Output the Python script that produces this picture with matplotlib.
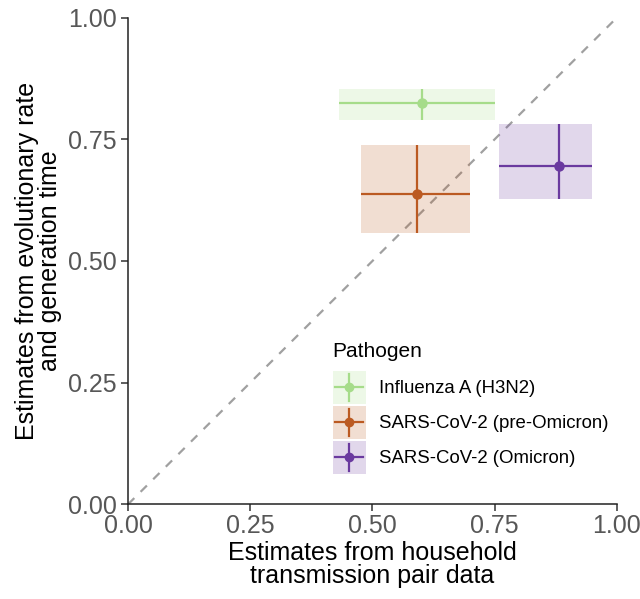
import matplotlib
matplotlib.use("Agg")
import matplotlib.pyplot as plt
from matplotlib.patches import Rectangle
from matplotlib.lines import Line2D
from matplotlib.legend_handler import HandlerBase

plt.rcParams['font.family'] = ['Liberation Sans', 'DejaVu Sans']

pathogens = ["Influenza A (H3N2)", "SARS-CoV-2 (pre-Omicron)", "SARS-CoV-2 (Omicron)"]
colors = ["#a6dc8a", "#bb5a22", "#6a3a9f"]
# household transmission pair estimates (x) with interval
x_est = [0.602, 0.592, 0.882]
x_lo = [0.432, 0.476, 0.759]
x_hi = [0.751, 0.699, 0.948]
# evolutionary rate / generation time estimates (y) with interval
y_est = [0.824, 0.638, 0.695]
y_lo = [0.790, 0.558, 0.627]
y_hi = [0.853, 0.739, 0.782]
ticks = [0.0, 0.25, 0.5, 0.75, 1.0]
tick_labels = ["0.00", "0.25", "0.50", "0.75", "1.00"]


class CrossKey(HandlerBase):
    """Legend key: shaded square with a crosshair and a point."""
    def create_artists(self, legend, orig_handle, xdescent, ydescent, width, height,
                       fontsize, trans):
        c = orig_handle.get_color()
        x0, y0 = -xdescent, -ydescent
        rect = Rectangle((x0, y0), width, height, facecolor=c, alpha=0.2,
                         edgecolor="none", transform=trans)
        cx, cy = x0 + width / 2, y0 + height / 2
        mx, my = width * 0.08, height * 0.08
        h = Line2D([x0 + mx, x0 + width - mx], [cy, cy], color=c, lw=1.6,
                   transform=trans)
        v = Line2D([cx, cx], [y0 + my, y0 + height - my], color=c, lw=1.6,
                   transform=trans)
        p = Line2D([cx], [cy], marker="o", ms=6, color=c, transform=trans)
        return [rect, h, v, p]


fig = plt.figure(figsize=(6.4, 5.99), dpi=100)
ax = fig.add_axes([0.2, 0.158, 0.764, 0.8127])

ax.plot([0, 1], [0, 1], ls=(0, (4, 4)), color="#a0a0a0", lw=1.6, zorder=1)

handles = []
for i, name in enumerate(pathogens):
    ax.add_patch(Rectangle((x_lo[i], y_lo[i]), x_hi[i] - x_lo[i], y_hi[i] - y_lo[i],
                           facecolor=colors[i], alpha=0.2, edgecolor="none", zorder=2))
    ax.errorbar(x_est[i], y_est[i],
                xerr=[[x_est[i] - x_lo[i]], [x_hi[i] - x_est[i]]],
                yerr=[[y_est[i] - y_lo[i]], [y_hi[i] - y_est[i]]],
                fmt="o", color=colors[i], ms=6.5, elinewidth=1.6, capsize=0, zorder=3)
    handles.append(Line2D([], [], color=colors[i]))

ax.set_xlim(0, 1)
ax.set_ylim(0, 1)
ax.set_xticks(ticks)
ax.set_xticklabels(tick_labels)
ax.set_yticks(ticks)
ax.set_yticklabels(tick_labels)
ax.tick_params(axis="both", labelsize=18, labelcolor="#575757", length=4.7, width=1.1,
               color="#333333", direction="out")
ax.tick_params(axis="x", pad=2.2)
ax.tick_params(axis="y", pad=3.6)
for s in ["top", "right"]:
    ax.spines[s].set_visible(False)
for s in ["left", "bottom"]:
    ax.spines[s].set_linewidth(1.1)
    ax.spines[s].set_color("#222222")

ax.set_xlabel("Estimates from household\ntransmission pair data", fontsize=18,
              linespacing=0.93, va="top")
ax.xaxis.set_label_coords(0.5, -0.075)
ax.set_ylabel("Estimates from evolutionary rate\nand generation time", fontsize=18,
              linespacing=0.97)
ax.yaxis.set_label_coords(-0.135, 0.5)

leg = ax.legend(handles, pathogens, handler_map={Line2D: CrossKey()},
                title="Pathogen", loc="upper left", bbox_to_anchor=(0.4186, 0.333),
                frameon=False, fontsize=13.4, title_fontsize=15,
                handlelength=1.773, handleheight=2.35, handletextpad=0.73,
                labelspacing=0.107, borderpad=0.0, borderaxespad=0.0)
leg._legend_box.align = "left"
leg._legend_box.sep = 7

fig.savefig("out.png", dpi=100)
